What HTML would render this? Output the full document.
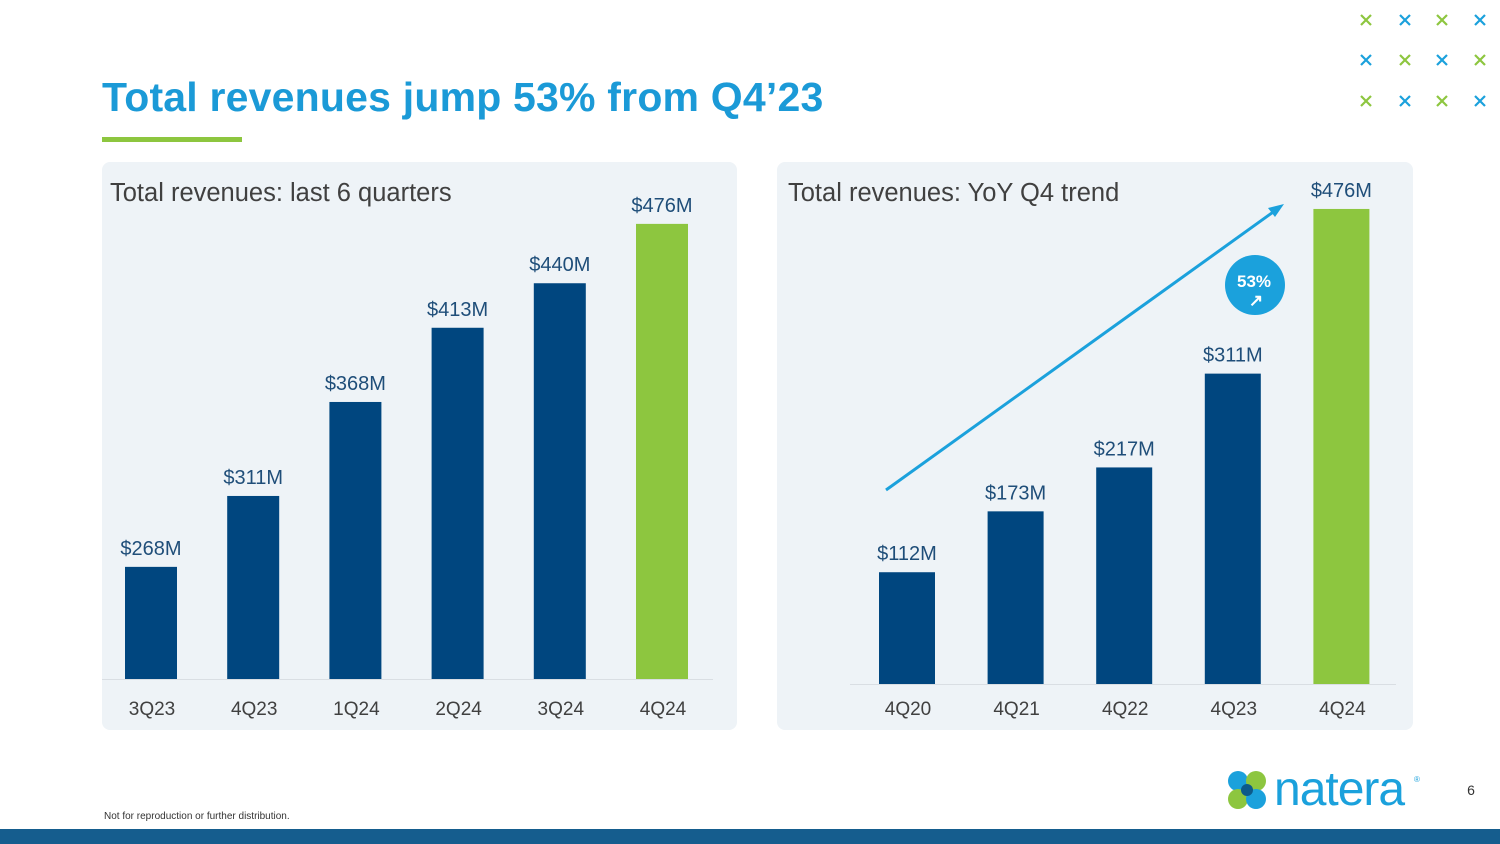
<!DOCTYPE html>
<html><head><meta charset="utf-8"><style>
body{margin:0;width:1500px;height:844px;background:#fff;position:relative;overflow:hidden;font-family:"Liberation Sans",sans-serif}
.panel{position:absolute;background:#eef3f7;border-radius:8px}
svg text{font-family:"Liberation Sans",sans-serif}
</style></head><body>
<div style="position:absolute;left:102px;top:74px;font-size:41px;font-weight:bold;color:#1b9ad7;letter-spacing:0.2px;white-space:nowrap">Total revenues jump 53% from Q4’23</div>
<div style="position:absolute;left:102px;top:137px;width:140px;height:5px;background:#8dc63f"></div>
<div class="panel" style="left:102px;top:162px;width:635px;height:568px"></div>
<div class="panel" style="left:777px;top:162px;width:636px;height:568px"></div>
<svg id="svg" width="1500" height="844" style="position:absolute;left:0;top:0">
<text x="110" y="201" font-size="25.5" fill="#404040">Total revenues: last 6 quarters</text>
<text x="788" y="201" font-size="25.5" fill="#404040">Total revenues: YoY Q4 trend</text>
<line x1="102" y1="679.5" x2="713" y2="679.5" stroke="#d9dee3"/>
<line x1="850" y1="684.5" x2="1396" y2="684.5" stroke="#d9dee3"/>
<g id="left"></g><g id="right"></g>
<line x1="886" y1="490" x2="1276" y2="210" stroke="#1ba1dc" stroke-width="3"/>
<polygon points="1284,204 1268,208 1275,217" fill="#1ba1dc"/>
<circle cx="1255" cy="285" r="30" fill="#1ba1dc"/>
<text x="1254" y="287" font-size="17" font-weight="bold" fill="#fff" text-anchor="middle">53%</text>
<text x="1256" y="306" font-size="17" font-weight="bold" fill="#fff" text-anchor="middle">↗</text>
<g id="marks"></g>
<text x="104" y="819" font-size="10" fill="#333">Not for reproduction or further distribution.</text>
<text x="1471" y="795" font-size="14" fill="#333" text-anchor="middle">6</text>
<g>
<circle cx="1238" cy="781" r="10" fill="#1ba1dc"/><circle cx="1256" cy="781" r="10" fill="#8dc63f"/>
<circle cx="1238" cy="799" r="10" fill="#8dc63f"/><circle cx="1256" cy="799" r="10" fill="#1ba1dc"/>
<circle cx="1247" cy="790" r="6" fill="#0d5a8a"/>
</g>
<text x="1274" y="805" font-size="48" fill="#1ba1dc" letter-spacing="-1">natera</text>
<text x="1414" y="782" font-size="8" fill="#1ba1dc">®</text>
<rect x="0" y="829" width="1500" height="15" fill="#155d8e"/>
</svg>
<script>
const leftCats=["3Q23","4Q23","1Q24","2Q24","3Q24","4Q24"];
const leftVals=[268,311,368,413,440,476];
const leftLabels=["$268M","$311M","$368M","$413M","$440M","$476M"];
const rightCats=["4Q20","4Q21","4Q22","4Q23","4Q24"];
const rightVals=[112,173,217,311,476];
const rightLabels=["$112M","$173M","$217M","$311M","$476M"];
const NS="http://www.w3.org/2000/svg";
function mk(t,a,p){const e=document.createElementNS(NS,t);for(const k in a)e.setAttribute(k,a[k]);p.appendChild(e);return e;}
function draw(g,cats,vals,labels,x0,step,bw,base,yMin,scale,catY,prefix){
  const y=v=>base-(v-yMin)*scale;
  cats.forEach((c,i)=>{
    const cx=x0+i*step,last=i===cats.length-1;
    const r=mk("rect",{x:cx-bw/2,y:y(vals[i]),width:bw,height:base-y(vals[i]),fill:last?"#8dc63f":"#00467f"},g);
    
    
    const t=mk("text",{x:cx,y:y(vals[i])-12,"font-size":20,fill:"#1f4e79","text-anchor":"middle"},g);t.textContent=labels[i];
    
    
    const l=mk("text",{x:cx+1,y:catY,"font-size":19,fill:"#404040","text-anchor":"middle"},g);l.textContent=c;
    
    
  });
}
draw(document.getElementById("left"),leftCats,leftVals,leftLabels,151,102.2,52,679,200,1.649,715,'left');
draw(document.getElementById("right"),rightCats,rightVals,rightLabels,907,108.6,56,684,0,0.998,715,'right');
const mg=document.getElementById("marks");
const xs=[1366,1405,1442,1480],ys=[20,60,101];
ys.forEach((yy,r)=>xs.forEach((xx,c)=>{
  const col=((r+c)%2===0)?"#8dc63f":"#1ba1dc";
  const p=mk("path",{d:`M${xx-5} ${yy-5}L${xx+5} ${yy+5}M${xx+5} ${yy-5}L${xx-5} ${yy+5}`,stroke:col,"stroke-width":2.2},mg);
  
  
}));
</script>
</body></html>
